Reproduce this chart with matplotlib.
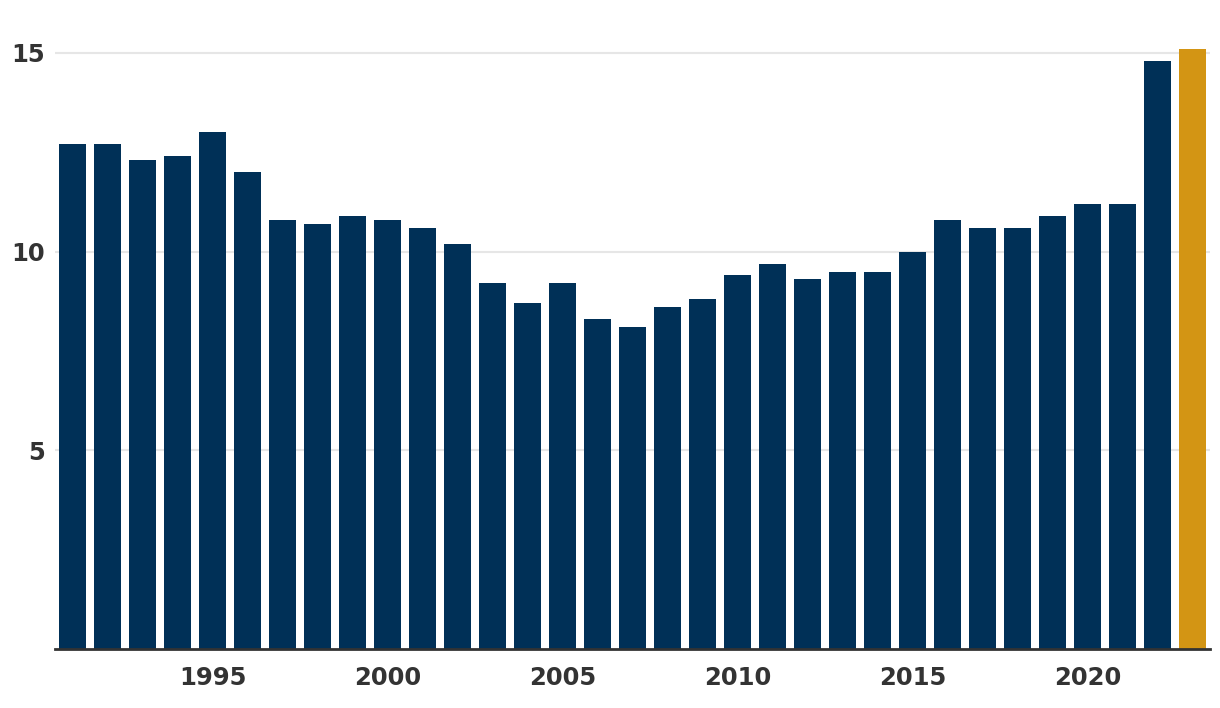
import matplotlib
matplotlib.use("Agg")
import matplotlib.pyplot as plt

years = list(range(1991, 2024))
values = [12.7, 12.7, 12.3, 12.4, 13.0, 12.0, 10.8, 10.7, 10.9, 10.8, 10.6, 10.2,
          9.2, 8.7, 9.2, 8.3, 8.1, 8.6, 8.8, 9.4, 9.7, 9.3, 9.5, 9.5, 10.0, 10.8,
          10.6, 10.6, 10.9, 11.2, 11.2, 14.8, 15.1]
highlight_year = 2023
xticks = [1995, 2000, 2005, 2010, 2015, 2020]
yticks = [5, 10, 15]

navy = "#003057"
gold = "#D39514"
colors = [gold if y == highlight_year else navy for y in years]

fig = plt.figure(figsize=(12.2, 7.08), dpi=100)
ax = fig.add_axes([55/1220, 1 - 649/708, (1210-55)/1220, (649-45)/708])
ax.bar(years, values, width=0.8, color=colors, zorder=3)
ax.set_xlim(1990.5, 2023.5)
ax.set_ylim(0, 15.2)
ax.set_yticks(yticks)
ax.set_xticks(xticks)
ax.grid(axis="y", color="#e6e6e6", linewidth=1.5, zorder=0)
for s in ["left", "right", "top"]:
    ax.spines[s].set_visible(False)
ax.spines["bottom"].set_color("#333333")
ax.spines["bottom"].set_linewidth(2)
ax.spines["bottom"].set_zorder(4)
ax.tick_params(axis="both", length=0, labelsize=17.5, labelcolor="#333333")
ax.tick_params(axis="y", pad=7)
ax.tick_params(axis="x", pad=12)
for lab in ax.get_xticklabels() + ax.get_yticklabels():
    lab.set_fontweight("bold")
fig.savefig("out.png", dpi=100)
